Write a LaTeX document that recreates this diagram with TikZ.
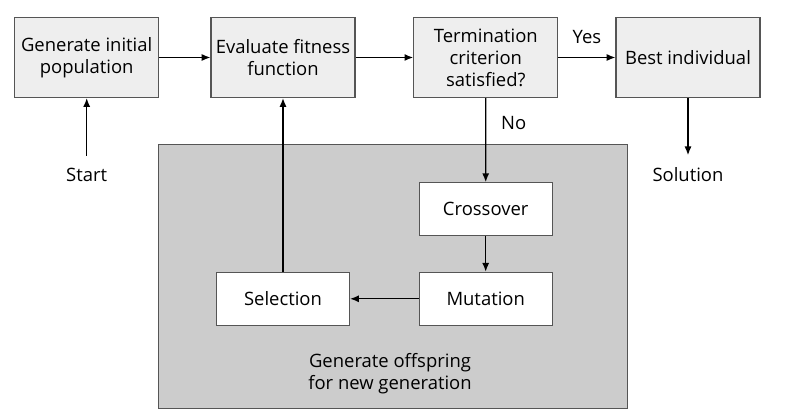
\documentclass[tikz,border=0pt]{standalone}
\usepackage{fontspec}
\setmainfont{Open Sans}
\usepackage{xcolor}
\usetikzlibrary{arrows.meta, positioning}
\definecolor{BoxGray}{HTML}{EEEEEE}
\definecolor{AreaGray}{HTML}{CCCCCC}
\definecolor{EdgeGray}{HTML}{555555}
\tikzset{
  >=latex,
  % blocchi del flusso
  block/.style={draw=EdgeGray,fill=BoxGray,line width=0.6pt,align=center,
    minimum width=2.88cm,minimum height=1.6cm,inner sep=2pt,
    font=\fontsize{10.5}{12.5}\selectfont},
  inner block/.style={block,fill=white,minimum width=2.66cm,minimum height=1.06cm},
  plain/.style={align=center,font=\fontsize{10.5}{12.5}\selectfont},
  % connessioni
  connect arrow/.style={-{Latex[length=5pt,width=4pt]},line width=0.8pt,black}
}
\begin{document}
\begin{tikzpicture}[x=0.02cm,y=-0.02cm]
    \useasboundingbox (0,0) rectangle (785,411);
    % area grigia
    \node[draw=EdgeGray,fill=AreaGray,line width=0.6pt,minimum width=9.38cm,
      minimum height=5.27cm,inner sep=0pt] (area) at (392.8,276.7) {};
    \node[plain] (areatext) at (390,373.5) {Generate offspring\\for new generation};
    % blocchi principali
    \node[block] (gen) at (86.7,57.5) {Generate initial\\population};
    \node[block] (eval) at (283,57.5) {Evaluate fitness\\function};
    \node[block] (term) at (485.8,57.5) {Termination\\criterion\\satisfied?};
    \node[block] (best) at (688,57.5) {Best individual};
    \node[inner block] (cross) at (485.7,209.2) {Crossover};
    \node[inner block] (mut) at (485.7,298.8) {Mutation};
    \node[inner block] (sel) at (283,298.8) {Selection};
    \node[plain,inner sep=7pt] (start) at (86.7,175) {Start};
    \node[plain,inner sep=7pt] (sol) at (688,175) {Solution};
    % frecce
    \draw[connect arrow](gen)--(eval);
    \draw[connect arrow](eval)--(term);
    \draw[connect arrow](term)--(best) node[midway,above=4pt,plain]{Yes};
    \draw[connect arrow](term)--(cross) node[pos=0.3,right=5pt,plain]{No};
    \draw[connect arrow](cross)--(mut);
    \draw[connect arrow](mut)--(sel);
    \draw[connect arrow](sel)--(eval);
    \draw[connect arrow](start)--(gen);
    \draw[connect arrow](best)--(sol);
  \end{tikzpicture}
\end{document}
